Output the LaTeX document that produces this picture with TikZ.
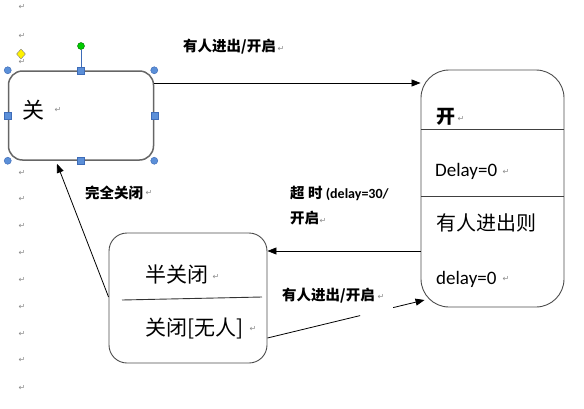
\documentclass[tikz,border=0pt]{standalone}
\usepackage{fontspec}
\setmainfont{Carlito}
\newfontfamily\cjk{Noto Sans CJK SC}
\newfontfamily\symf{DejaVu Sans}
\usetikzlibrary{arrows.meta,calc,shapes.geometric}
\definecolor{hfill}{HTML}{5B8FD8}
\definecolor{hline}{HTML}{3E6CB8}
\definecolor{pmgray}{HTML}{8A8A8A}
\begin{document}
\begin{tikzpicture}[x=1pt,y=-1pt,
  statebox/.style={draw=black!70,line width=0.9pt,inner sep=0pt},
  conn/.style={draw=black,line width=0.8pt},
  tip/.style={-{Triangle[length=9pt,width=7pt]}},
  lbl/.style={anchor=west,inner sep=0pt,font=\cjk\bfseries\fontsize{14.5}{16}\selectfont},
  intext/.style={anchor=west,inner sep=0pt},
  pm/.style={inner sep=0pt,text=pmgray,font=\symf\fontsize{8}{8}\selectfont},
  hc/.style={circle,fill=hfill,draw=hline,line width=0.5pt,minimum size=7pt,inner sep=0pt},
  hs/.style={rectangle,fill=hfill,draw=hline,line width=0.5pt,minimum size=7pt,inner sep=0pt}
]
\useasboundingbox (0,0) rectangle (584,408);

% paragraph marks, left column
\foreach \yy [count=\i] in {7,36,62,173,199,226,253,280,307,334,360,388}
  \node[pm] (lp\i) at (22,\yy) {↵};

% state boxes
\node[statebox,draw=black!60,line width=1.5pt,rounded corners=14pt,minimum width=145pt,minimum height=89pt] (off) at (81,115.5) {};
\node[statebox,rounded corners=28pt,minimum width=143pt,minimum height=237pt] (on) at (492.5,188.5) {};
\node[statebox,rounded corners=18pt,minimum width=158pt,minimum height=130pt] (half) at (188,298) {};

% compartment lines
\draw[black!75,line width=0.9pt] (421,129) -- (564,129);
\draw[black!75,line width=0.9pt] (421,196) -- (564,196);
\draw[black!80,line width=0.9pt] (122,300) -- (262,297);

% texts in boxes
\node[intext,font=\cjk\fontsize{22}{22}\selectfont] (toff) at (22,110) {关};
\node[intext,font=\cjk\bfseries\fontsize{19}{19}\selectfont] (ton) at (436,117) {开};
\node[intext,font=\fontsize{19}{19}\selectfont] (tdelay1) at (435,171) {Delay=0};
\node[intext,font=\cjk\fontsize{20}{20}\selectfont] (tenter) at (436,223) {有人进出则};
\node[intext,font=\fontsize{19}{19}\selectfont] (tdelay2) at (436,279) {delay=0};
\node[intext,font=\cjk\fontsize{21}{21}\selectfont] (thalf) at (145,275) {半关闭};
\node[intext,font=\cjk\fontsize{21}{21}\selectfont] (tclosed) at (145,328) {关闭[无人]};

% connectors
\draw[conn,tip] ([yshift=32.5pt]off.east) -- ([yshift=105.5pt]on.west);
\draw[conn,tip] ([yshift=-62.5pt]on.west) -- ([yshift=47pt]half.east);
\draw[conn,tip] ([yshift=1pt]half.west) -- ([xshift=-24pt,yshift=-3pt]off.south);
\coordinate (a4) at ([yshift=-40pt]half.east);
\coordinate (b4) at ([xshift=4pt,yshift=-111.5pt]on.west);
\draw[conn] (a4) -- ($(a4)!0.59!(b4)$);
\draw[conn,tip] ($(a4)!0.80!(b4)$) -- (b4);

% labels
\node[lbl] (l1) at (183,47) {有人进出/开启};
\node[lbl] (l2) at (290,193) {超 时 {\normalfont\bfseries\fontsize{14}{15}\selectfont (delay=30/}};
\node[lbl] (l2b) at (290,218) {开启};
\node[lbl] (l3) at (85,193) {完全关闭};
\node[lbl] (l4) at (282,296) {有人进出/开启};

% paragraph marks after texts
\node[pm] (p1) at (58,110) {↵};
\node[pm] (p2) at (461,119) {↵};
\node[pm] (p3) at (506,172) {↵};
\node[pm] (p4) at (506,279) {↵};
\node[pm] (p5) at (216,277) {↵};
\node[pm] (p6) at (253,329) {↵};
\node[pm] (p7) at (281,49) {↵};
\node[pm] (p8) at (149,193) {↵};
\node[pm] (p9) at (323,221) {↵};
\node[pm] (p10) at (381,297) {↵};

% selection handles
\node[circle,fill=green!80!black,draw=green!40!black,line width=0.4pt,minimum size=7pt,inner sep=0pt] (rot) at (81,46) {};
\draw[hline,line width=0.8pt] (rot) -- (off.north);
\node[diamond,fill=yellow,draw=black!50,line width=0.4pt,minimum width=9pt,minimum height=10pt,inner sep=0pt] (adj) at (21,54) {};
\node[hc] (h1) at (off.north west) {};
\node[hc] (h2) at (off.north east) {};
\node[hc] (h3) at (off.south west) {};
\node[hc] (h4) at (off.south east) {};
\node[hs] (h5) at (off.north) {};
\node[hs] (h6) at (off.south) {};
\node[hs] (h7) at (off.west) {};
\node[hs] (h8) at (off.east) {};
\end{tikzpicture}
\end{document}
